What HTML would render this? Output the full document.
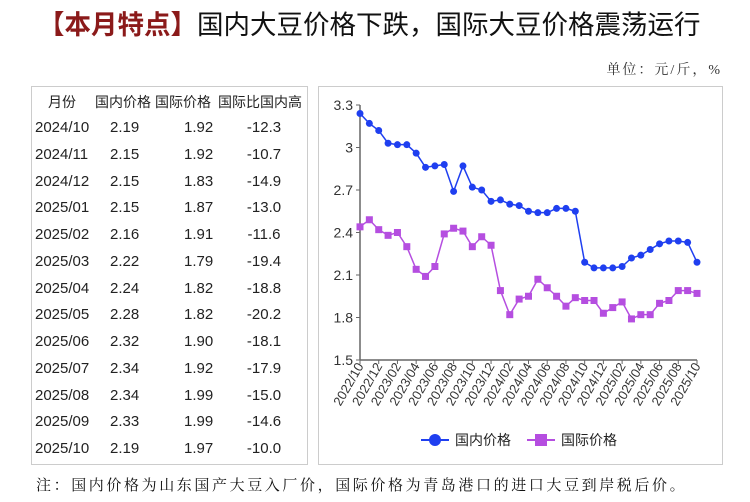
<!DOCTYPE html>
<html><head><meta charset="utf-8"><style>
body{margin:0;width:750px;height:502px;background:#fff;font-family:"Liberation Sans","Noto Sans CJK SC",sans-serif;position:relative;overflow:hidden}
.t{position:absolute;white-space:nowrap}
#tbl{position:absolute;left:31px;top:86px;width:277px;height:379px;border:1px solid #ccc;box-sizing:border-box}
#chartbox{position:absolute;left:318px;top:86px;width:405px;height:379px;border:1px solid #ccc;box-sizing:border-box}
.row{position:absolute;left:0;width:275px;font-size:15px;color:#222;height:20px}
.row span{position:absolute;top:0}
</style></head><body>
<div class="t" style="left:38px;top:3px;font-size:26.5px;color:#111"><span style="color:#8b1a1a;font-weight:bold">【本月特点】</span>国内大豆价格下跌，国际大豆价格震荡运行</div>
<div class="t" style="right:28px;top:59px;font-size:14px;letter-spacing:2px;color:#333;font-family:'Liberation Serif','Noto Serif CJK SC',serif">单位：元/斤，%</div>
<div id="tbl"></div>
<div id="chartbox"><svg id="svg" width="405" height="379"></svg></div>
<div class="t" style="left:36px;top:474px;font-size:15px;letter-spacing:2.6px;color:#111;font-family:'Liberation Serif','Noto Serif CJK SC',serif">注：国内价格为山东国产大豆入厂价，国际价格为青岛港口的进口大豆到岸税后价。</div>
<script>
const tMonths=["2024/10","2024/11","2024/12","2025/01","2025/02","2025/03","2025/04","2025/05","2025/06","2025/07","2025/08","2025/09","2025/10"];
const tDom=["2.19","2.15","2.15","2.15","2.16","2.22","2.24","2.28","2.32","2.34","2.34","2.33","2.19"];
const tIntl=["1.92","1.92","1.83","1.87","1.91","1.79","1.82","1.82","1.90","1.92","1.99","1.99","1.97"];
const tDiff=["-12.3","-10.7","-14.9","-13.0","-11.6","-19.4","-18.8","-20.2","-18.1","-17.9","-15.0","-14.6","-10.0"];
const domestic=[3.24,3.17,3.12,3.03,3.02,3.02,2.96,2.86,2.87,2.88,2.69,2.87,2.72,2.70,2.62,2.63,2.60,2.59,2.55,2.54,2.54,2.57,2.57,2.55,2.19,2.15,2.15,2.15,2.16,2.22,2.24,2.28,2.32,2.34,2.34,2.33,2.19];
const intl=[2.44,2.49,2.42,2.38,2.40,2.30,2.14,2.09,2.16,2.39,2.43,2.41,2.30,2.37,2.31,1.99,1.82,1.93,1.95,2.07,2.01,1.95,1.88,1.94,1.92,1.92,1.83,1.87,1.91,1.79,1.82,1.82,1.90,1.92,1.99,1.99,1.97];
const yTicks=[1.5,1.8,2.1,2.4,2.7,3.0,3.3];
const yTickLabels=["1.5","1.8","2.1","2.4","2.7","3","3.3"];
const xLabels=["2022/10","2022/12","2023/02","2023/04","2023/06","2023/08","2023/10","2023/12","2024/02","2024/04","2024/06","2024/08","2024/10","2024/12","2025/02","2025/04","2025/06","2025/08","2025/10"];

const tbl=document.getElementById('tbl');
function addRow(y,cells,name){
  const r=document.createElement('div');r.className='row';r.style.top=y+'px';
  
  
  const pos=[{l:3},{l:78},{l:152},{c:232}];
  cells.forEach((c,i)=>{const s=document.createElement('span');s.textContent=c;
    if(pos[i].c!==undefined){s.style.left=(pos[i].c-30)+'px';s.style.width='60px';s.style.textAlign='center';}else s.style.left=pos[i].l+'px';
    r.appendChild(s);});
  tbl.appendChild(r);return r;
}
const h=addRow(5,["月份","国内价格","国际价格","国际比国内高"],'table-header');
h.style.fontSize='14px';h.children[0].style.left='16px';
h.children[1].style.left='63px';h.children[2].style.left='123px';h.children[3].style.left='186px';h.children[3].style.width='95px';h.children[3].style.textAlign='left';
tMonths.forEach((m,i)=>{addRow(32+i*26.75,[m,tDom[i],tIntl[i],tDiff[i]],'table-row-'+m.replace('/','-'));});

const svg=document.getElementById('svg');const NS='http://www.w3.org/2000/svg';
const X0=41,X1=378,Y0=273,Y1=18;
const xs=i=>X0+(X1-X0)*i/(domestic.length-1);
const ys=v=>Y0-(v-1.5)/(3.3-1.5)*(Y0-Y1);
function el(t,a){const e=document.createElementNS(NS,t);for(const k in a)e.setAttribute(k,a[k]);svg.appendChild(e);return e;}
let ax=el('line',{x1:X0,y1:Y1,x2:X0,y2:Y0,stroke:'#666','stroke-width':1.5});


let bx=el('line',{x1:X0,y1:Y0,x2:X1,y2:Y0,stroke:'#666','stroke-width':1.5});


yTicks.forEach((v,i)=>{el('line',{x1:X0-4,y1:ys(v),x2:X0,y2:ys(v),stroke:'#666'});
  const t=el('text',{x:X0-7,y:ys(v)+5,'text-anchor':'end','font-size':14,fill:'#333'});t.textContent=yTickLabels[i];
  
  });
xLabels.forEach((l,i)=>{const x=xs(i*2);el('line',{x1:x,y1:Y0,x2:x,y2:Y0+4,stroke:'#666'});
  const t=el('text',{x:x+4,y:Y0+6,'text-anchor':'end','font-size':13,fill:'#333',transform:`rotate(-60 ${x+4} ${Y0+6})`});t.textContent=l;
  
  });
function series(d,color,sq,name){
  const p=el('polyline',{points:d.map((v,i)=>xs(i)+','+ys(v)).join(' '),fill:'none',stroke:color,'stroke-width':1.5});
  
  
  d.forEach((v,i)=>{let m;if(sq)m=el('rect',{x:xs(i)-3.5,y:ys(v)-3.5,width:7,height:7,fill:color});else m=el('circle',{cx:xs(i),cy:ys(v),r:3.5,fill:color});
    
    });
}
series(domestic,'#1f3ff0',false,'domestic');
series(intl,'#b54ee0',true,'international');
const lg=[[102,'#1f3ff0',false,'国内价格'],[208,'#b54ee0',true,'国际价格']];
lg.forEach(([x,c,sq,txt])=>{el('line',{x1:x,y1:353,x2:x+28,y2:353,stroke:c,'stroke-width':2});
  let m=sq?el('rect',{x:x+8,y:347,width:12,height:12,fill:c}):el('circle',{cx:x+14,cy:353,r:6,fill:c});
  
  
  const t=el('text',{x:x+34,y:358,'font-size':14,fill:'#222'});t.textContent=txt;
  
  });
</script>
</body></html>
